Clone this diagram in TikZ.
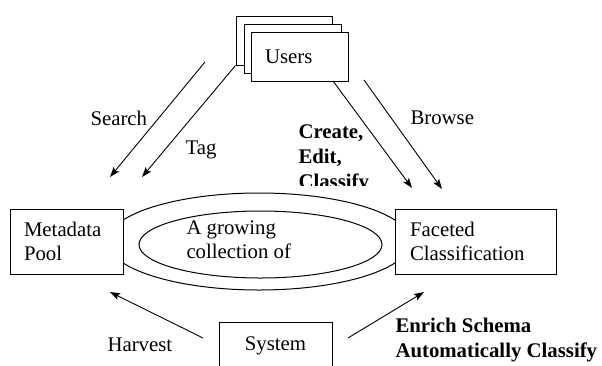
\documentclass[tikz,border=0pt]{standalone}
\usepackage{fontspec}
\setmainfont{Liberation Serif}
\usetikzlibrary{shapes.geometric,arrows.meta}

\begin{document}
\begin{tikzpicture}[x=1pt,y=-1pt,line width=1pt,
        font=\fontsize{20.8}{24}\selectfont,
        >={Stealth[length=10pt,width=7pt,inset=2pt]},
        word/.style={inner sep=0pt,align=left},
        strong/.style={word,font=\fontsize{20.8}{25}\selectfont\bfseries}]

    \clip (0,0) rectangle (602,365);

    % the growing collection in the middle
    \node[ellipse,draw,minimum width=303pt,minimum height=97pt] (ring) at (259,241.5) {};
    \node[ellipse,draw,minimum width=243pt,minimum height=67pt] (core) at (260.5,244.5) {};
    \node[word,anchor=west] (growing) at (186,240) {A growing\\collection of};

    \begin{scope}[every node/.style={draw,fill=white,rectangle,align=left,inner xsep=14pt}]
        \node[minimum width=113pt,minimum height=65pt,text width=85pt] (pool) at (66.5,241.5) {Metadata\\Pool};
        \node[minimum width=161pt,minimum height=65pt,text width=131pt,inner xsep=15pt] (facets) at (475.5,241.5) {Faceted\\Classification};
        \node[minimum width=113pt,minimum height=46pt,align=center,anchor=north] (system) at (275.5,322) {System};

        \node[minimum width=96pt,minimum height=49pt] (users-back) at (284,40.5) {};
        \node[minimum width=97pt,minimum height=49pt] (users-mid) at (292.5,48.5) {};
        \node[minimum width=97pt,minimum height=49pt,text width=69pt] (users) at (299.5,56.5) {Users};
    \end{scope}

    % loose ends of the arrows
    \coordinate (search-from) at (205,62);
    \coordinate (search-to) at (110,177);
    \coordinate (tag-to) at (142,177);
    \coordinate (create-from) at (333,81);
    \coordinate (create-to) at (412,188);
    \coordinate (browse-from) at (364,80);
    \coordinate (browse-to) at (442,189);
    \coordinate (harvest-from) at (203,338);
    \coordinate (harvest-to) at (110,292);
    \coordinate (enrich-from) at (348,338);
    \coordinate (enrich-to) at (424,292);

    \begin{scope}[line width=0.9pt]
        \draw [->] (search-from) -- (search-to);
        \draw [->] (users-back.south west) -- (tag-to);
        \draw [->] (create-from) -- (create-to);
        \draw [->] (browse-from) -- (browse-to);
        \draw [->] (harvest-from) -- (harvest-to);
        \draw [->] (enrich-from) -- (enrich-to);
    \end{scope}

    % labels
    \node[word,anchor=west] (search) at (90,118) {Search};
    \node[word,anchor=west] (tag) at (185,150) {Tag};
    \node[word,anchor=west] (browse) at (410,118) {Browse};
    \node[word,anchor=west] (harvest) at (107,345) {Harvest};
    \begin{scope}
        \clip (290,100) rectangle (400,185.5);
        \node[strong,anchor=north west] (create) at (298,124.5) {Create,\\Edit,\\Classify};
    \end{scope}
    \node[strong,anchor=north west] (enrich) at (395,318) {Enrich Schema\\Automatically Classify};

\end{tikzpicture}
\end{document}
